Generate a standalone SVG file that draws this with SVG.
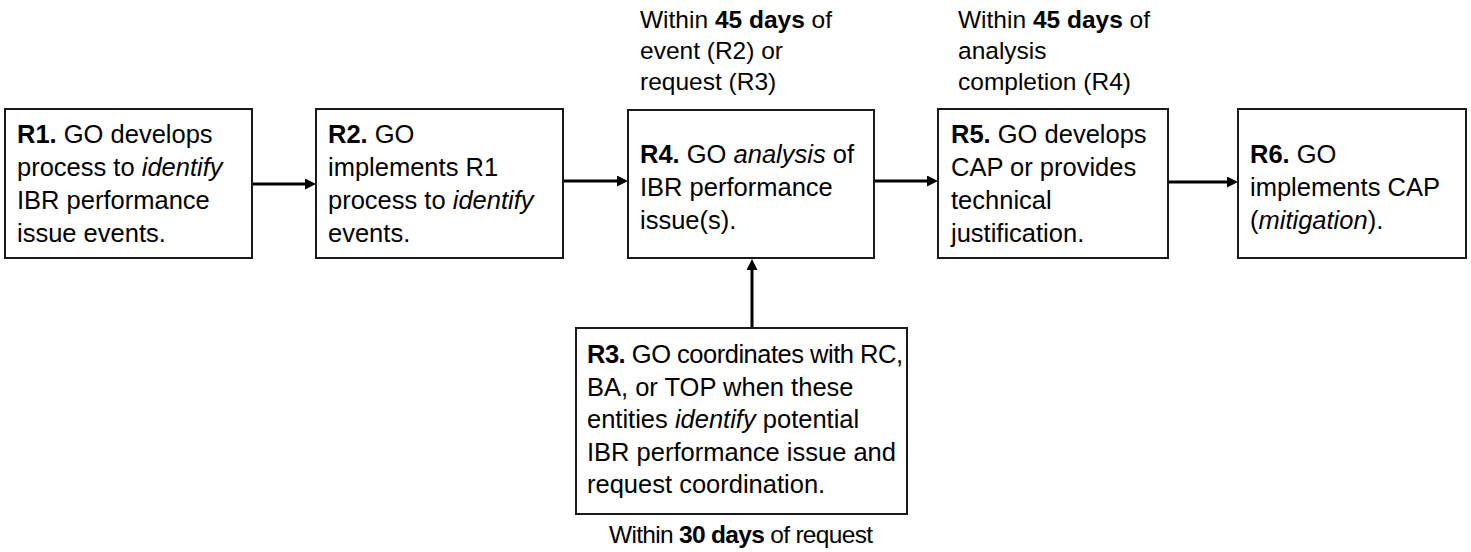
<svg xmlns="http://www.w3.org/2000/svg" width="1471" height="552" viewBox="0 0 1471 552">
<style>
.box{fill:#fff;stroke:#1a1a1a;stroke-width:2}
.t{font-family:"Liberation Sans",Arial,sans-serif;font-size:25.5px;fill:#000}
.l{font-family:"Liberation Sans",Arial,sans-serif;font-size:24.5px;fill:#000}
.b{font-weight:bold}
.i{font-style:italic}
.c{stroke:#000;stroke-width:3;fill:none;marker-end:url(#ah)}
</style>
<defs>
<marker id="ah" markerUnits="userSpaceOnUse" markerWidth="11" markerHeight="11" refX="4" refY="5.5" orient="auto">
<path d="M0,0 L11,5.5 L0,11 z" fill="#000"/>
</marker>
</defs>
<rect width="1471" height="552" fill="#fff"/>
<g id="connectors">
<line class="c" x1="252" y1="184" x2="309" y2="184"/>
<line class="c" x1="563" y1="181" x2="621" y2="181"/>
<line class="c" x1="874" y1="181" x2="931" y2="181"/>
<line class="c" x1="1168" y1="182" x2="1231" y2="182"/>
<line class="c" x1="752" y1="328" x2="752" y2="266"/>
</g>
<g id="r1">
<rect class="box" x="5" y="109" width="247" height="149"/>
<text class="t" x="17" y="143"><tspan class="b">R1.</tspan> GO develops</text>
<text class="t" x="17" y="176">process to <tspan class="i">identify</tspan></text>
<text class="t" x="17" y="209">IBR performance</text>
<text class="t" x="17" y="242">issue events.</text>
</g>
<g id="r2">
<rect class="box" x="316" y="109" width="247" height="149"/>
<text class="t" x="328" y="143"><tspan class="b">R2.</tspan> GO</text>
<text class="t" x="328" y="176">implements R1</text>
<text class="t" x="328" y="209">process to <tspan class="i">identify</tspan></text>
<text class="t" x="328" y="242">events.</text>
</g>
<g id="r4">
<text class="l" x="640" y="28">Within <tspan class="b">45 days</tspan> of</text>
<text class="l" x="640" y="59">event (R2) or</text>
<text class="l" x="640" y="90">request (R3)</text>
<rect class="box" x="628" y="110" width="246" height="148"/>
<text class="t" x="640" y="163"><tspan class="b">R4.</tspan> GO <tspan class="i">analysis</tspan> of</text>
<text class="t" x="640" y="196">IBR performance</text>
<text class="t" x="640" y="229">issue(s).</text>
</g>
<g id="r5">
<text class="l" x="958" y="28">Within <tspan class="b">45 days</tspan> of</text>
<text class="l" x="958" y="59">analysis</text>
<text class="l" x="958" y="90">completion (R4)</text>
<rect class="box" x="938" y="109" width="230" height="149"/>
<text class="t" x="951" y="143"><tspan class="b">R5.</tspan> GO develops</text>
<text class="t" x="951" y="176">CAP or provides</text>
<text class="t" x="951" y="209">technical</text>
<text class="t" x="951" y="242">justification.</text>
</g>
<g id="r6">
<rect class="box" x="1238" y="109" width="228" height="149"/>
<text class="t" x="1250" y="163"><tspan class="b">R6.</tspan> GO</text>
<text class="t" x="1250" y="196">implements CAP</text>
<text class="t" x="1250" y="229">(<tspan class="i">mitigation</tspan>).</text>
</g>
<g id="r3">
<rect class="box" x="576" y="328" width="331" height="186"/>
<text class="t" x="587" y="363" textLength="316"><tspan class="b">R3.</tspan> GO coordinates with RC,</text>
<text class="t" x="587" y="395.5">BA, or TOP when these</text>
<text class="t" x="587" y="428">entities <tspan class="i">identify</tspan> potential</text>
<text class="t" x="587" y="460.5">IBR performance issue and</text>
<text class="t" x="587" y="493">request coordination.</text>
<text class="l" x="609" y="543" textLength="264">Within <tspan class="b">30 days</tspan> of request</text>
</g>
</svg>
